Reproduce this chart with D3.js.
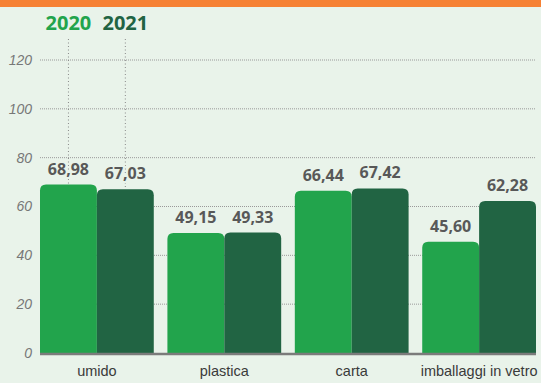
<!DOCTYPE html>
<html>
<head>
  <meta charset="utf-8">
  <script src="https://d3js.org/d3.v7.min.js"></script>
  <style>
    body { margin: 0; background: #e9f3ea; }
    svg { display: block; font-family: "Open Sans", sans-serif; }
  </style>
</head>
<body>
<div id="container"></div>
<script>
const categories = ["umido", "plastica", "carta", "imballaggi in vetro"];
const years = ["2020", "2021"];
const values2020 = [68.98, 49.15, 66.44, 45.60];
const values2021 = [67.03, 49.33, 67.42, 62.28];
const yTicks = [0, 20, 40, 60, 80, 100, 120];

const width = 541, height = 383;
const colors = {"2020": "#22a44c", "2021": "#216443"};

const svg = d3.select("#container").append("svg")
  .attr("width", width)
  .attr("height", height);

svg.append("rect").attr("width", width).attr("height", height).attr("fill", "#e9f3ea");
// orange strip on top
svg.append("rect").attr("width", width).attr("height", 7).attr("fill", "#f68134");

const x = d3.scaleBand()
  .domain(categories)
  .range([40, 536])
  .paddingInner(0.107)
  .paddingOuter(0);
const xs = d3.scaleBand().domain(years).range([0, x.bandwidth()]);
const y = d3.scaleLinear().domain([0, 120]).range([353, 60]);

// grid
svg.append("g").selectAll("line")
  .data(yTicks.filter(d => d > 0))
  .join("line")
  .attr("x1", 40).attr("x2", 536)
  .attr("y1", d => y(d)).attr("y2", d => y(d))
  .attr("stroke", "#999")
  .attr("stroke-width", 1)
  .attr("stroke-dasharray", "1,1");

const yAxis = svg.append("g")
  .attr("transform", "translate(40,0)")
  .call(d3.axisLeft(y).tickValues(yTicks).tickSize(0).tickPadding(8));
yAxis.select(".domain").remove();
yAxis.selectAll("text")
  .attr("fill", "#777")
  .attr("font-size", "14px")
  .attr("font-style", "italic")
  .attr("font-weight", 300);

const rows = categories.map((c, i) => ({cat: c, vals: [values2020[i], values2021[i]]}));

// legend + guide lines to the first group
const firstX = years.map((yr) => x(categories[0]) + xs(yr) + xs.bandwidth() / 2);
svg.append("g").selectAll("line")
  .data(years)
  .join("line")
  .attr("x1", (d, i) => firstX[i]).attr("x2", (d, i) => firstX[i])
  .attr("y1", 39)
  .attr("y2", (d, i) => y(rows[0].vals[i]))
  .attr("stroke", "#888")
  .attr("stroke-width", 1)
  .attr("stroke-dasharray", "1,2.5");

svg.append("g").selectAll("text")
  .data(years)
  .join("text")
  .attr("x", (d, i) => firstX[i])
  .attr("y", 30)
  .attr("text-anchor", "middle")
  .attr("font-size", "20px")
  .attr("font-weight", 700)
  .attr("fill", d => colors[d])
  .text(d => d);

function topRounded(x0, y0, w, h, r) {
  return `M${x0},${y0 + h}V${y0 + r}Q${x0},${y0} ${x0 + r},${y0}H${x0 + w - r}Q${x0 + w},${y0} ${x0 + w},${y0 + r}V${y0 + h}Z`;
}

const groups = svg.append("g").selectAll("g")
  .data(rows)
  .join("g")
  .attr("transform", d => `translate(${x(d.cat)},0)`);

groups.selectAll("path")
  .data(d => d.vals.map((v, i) => ({yr: years[i], v: v})))
  .join("path")
  .attr("d", d => topRounded(xs(d.yr), y(d.v), xs.bandwidth(), y(0) - y(d.v), 6))
  .attr("fill", d => colors[d.yr]);

groups.selectAll("text.val")
  .data(d => d.vals.map((v, i) => ({yr: years[i], v: v})))
  .join("text")
  .attr("class", "val")
  .attr("x", d => xs(d.yr) + xs.bandwidth() / 2)
  .attr("y", d => y(d.v) - 10)
  .attr("text-anchor", "middle")
  .attr("font-size", "16px")
  .attr("font-weight", 700)
  .attr("fill", "#585858")
  .attr("stroke", "#e9f3ea")
  .attr("stroke-width", 4)
  .attr("paint-order", "stroke")
  .text(d => d.v.toFixed(2).replace(".", ","));

// baseline
svg.append("line")
  .attr("x1", 40).attr("x2", 536)
  .attr("y1", y(0) + 1).attr("y2", y(0) + 1)
  .attr("stroke", "#7b7b7b")
  .attr("stroke-width", 2.5);

const xAxis = svg.append("g")
  .attr("transform", `translate(0,${y(0)})`)
  .call(d3.axisBottom(x).tickSize(0).tickPadding(13));
xAxis.select(".domain").remove();
xAxis.selectAll("text")
  .attr("fill", "#3a3a3a")
  .attr("font-size", "14.5px")
  .attr("font-weight", 500);
</script>
</body>
</html>
